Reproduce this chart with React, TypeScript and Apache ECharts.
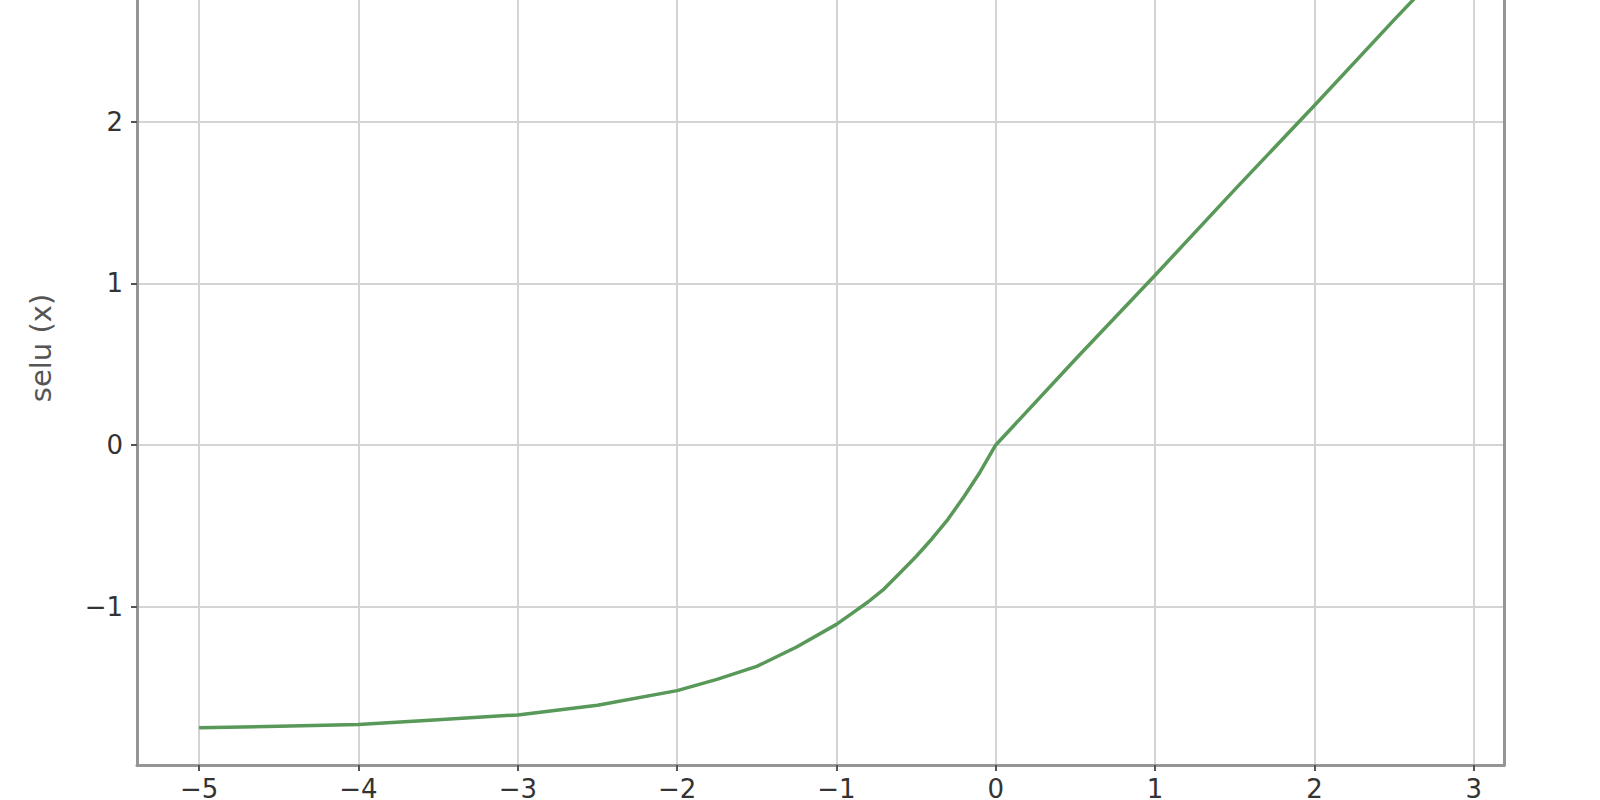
import { useEffect, useRef } from 'react';
import * as echarts from 'echarts';

// sample points
const xValues = [-5, -4.5, -4, -3.5, -3, -2.5, -2, -1.75, -1.5, -1.25, -1, -0.9, -0.8, -0.7, -0.6, -0.5, -0.4, -0.3, -0.2, -0.1, 0, 0.5, 1, 1.5, 2, 2.5, 2.8];
const seluValues = [-1.75, -1.74, -1.73, -1.70, -1.67, -1.61, -1.52, -1.45, -1.37, -1.25, -1.11, -1.04, -0.97, -0.89, -0.79, -0.69, -0.58, -0.46, -0.32, -0.17, 0, 0.53, 1.05, 1.58, 2.10, 2.63, 2.94];

const xTicks = [-5, -4, -3, -2, -1, 0, 1, 2, 3];
const yTicks = [-1, 0, 1, 2];
const xRange = [-5.39, 3.19];
const yRange = [-1.98, 3.18];
const yAxisName = 'selu (x)';

const fmtTick = (v: number) => {
  const n = Math.round(v);
  return n < 0 ? '\u2212' + Math.abs(n) : String(n);
};

const colors = {
  line: '#589858',
  grid: '#d4d4d4',
  spine: '#959595',
  text: '#333333',
};

export default function App() {
  const chartRef = useRef<HTMLDivElement>(null);

  useEffect(() => {
    if (!chartRef.current) return;
    const chart = echarts.init(chartRef.current, undefined, { renderer: 'svg' });

    const data = xValues.map((x, i) => [x, seluValues[i]]);

    chart.setOption({
      animation: false,
      backgroundColor: '#ffffff',
      textStyle: { fontFamily: 'DejaVu Sans' },
      grid: { left: 137, right: 96, top: -69, bottom: 35, show: false, outerBoundsMode: 'none', containLabel: false },
      xAxis: [
        {
          type: 'value',
          min: xRange[0],
          max: xRange[1],
          axisLine: { show: true, onZero: false, lineStyle: { color: colors.spine, width: 3 } },
          axisTick: { show: true, length: 6, customValues: xTicks, lineStyle: { color: '#555', width: 2 } },
          axisLabel: { color: colors.text, fontSize: 26, margin: 11, customValues: xTicks, formatter: fmtTick },
          splitLine: { show: true, lineStyle: { color: colors.grid, width: 2 } },
        },
      ],
      yAxis: [
        {
          type: 'value',
          min: yRange[0],
          max: yRange[1],
          name: yAxisName,
          nameLocation: 'middle',
          nameGap: 82,
          nameTextStyle: { color: '#555', fontSize: 29 },
          axisLine: { show: true, onZero: false, lineStyle: { color: colors.spine, width: 3 } },
          axisTick: { show: true, length: 6, customValues: yTicks, lineStyle: { color: '#555', width: 2 } },
          axisLabel: { color: colors.text, fontSize: 26, margin: 14, customValues: yTicks, formatter: fmtTick },
          splitLine: { show: true, lineStyle: { color: colors.grid, width: 2 } },
        },
        {
          type: 'value',
          position: 'right',
          min: yRange[0],
          max: yRange[1],
          axisLine: { show: true, onZero: false, lineStyle: { color: colors.spine, width: 3 } },
          axisTick: { show: false },
          axisLabel: { show: false },
          splitLine: { show: false },
        },
      ],
      series: [
        {
          type: 'line',
          data,
          showSymbol: false,
          symbol: 'none',
          smooth: false,
          lineStyle: { color: colors.line, width: 3.5 },
        },
      ],
    });

    return () => {
      chart.dispose();
    };
  }, []);

  return (
    <div
      ref={chartRef}
      style={{ position: 'absolute', left: 0, top: 0, width: 1600, height: 800, background: '#fff' }}
    />
  );
}
